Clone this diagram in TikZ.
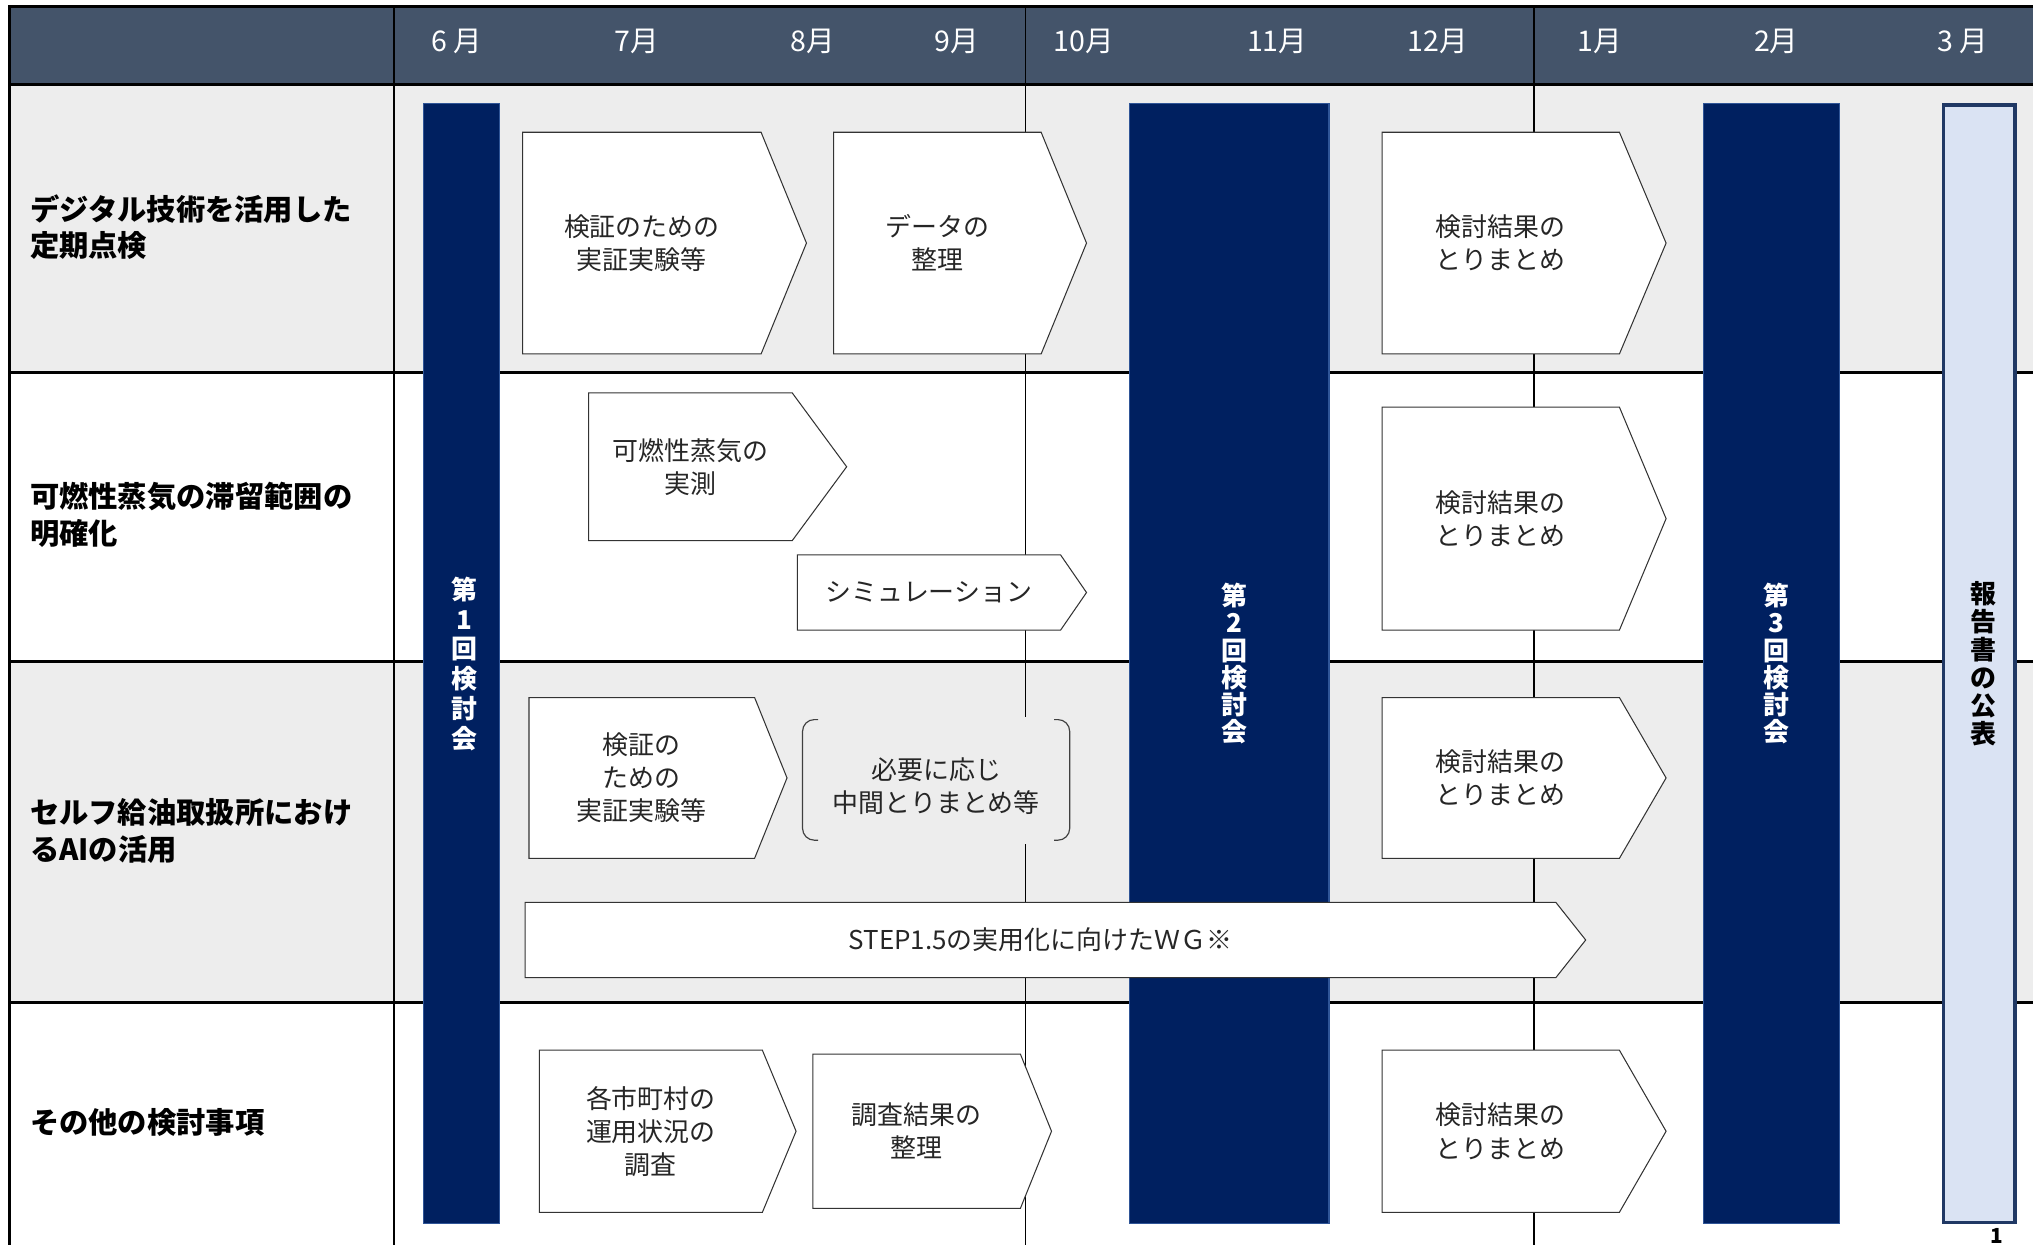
\documentclass[tikz,border=0pt]{standalone}
\usepackage{fontspec}
\setmainfont{Noto Sans CJK JP}

\definecolor{headblue}{HTML}{44546A}
\definecolor{bandgray}{HTML}{EDEDED}
\definecolor{navy}{HTML}{002060}
\definecolor{navyedge}{HTML}{2F5597}
\definecolor{reportfill}{HTML}{DAE3F3}
\definecolor{reportedge}{HTML}{203864}

% chevron box: name, x left, y top, x body end, x tip, y bottom, text
\newcommand{\taskchev}[7]{%
  \draw[taskline] (#2,#3) -- (#4,#3) -- (#5,{(#3+#6)/2}) -- (#4,#6) -- (#2,#6) -- cycle;
  \node[tasktext] (#1) at ({(#2+#4)/2},{(#3+#6)/2}) {#7};}

\begin{document}
\begin{tikzpicture}[
    x=1pt, y=-1pt,
    gridthick/.style={line width=2.4pt, black},
    gridthin/.style={line width=1.3pt, black},
    meetbar/.style={fill=navy, draw=navyedge, line width=0.8pt},
    reportbar/.style={fill=reportfill, draw=reportedge, line width=2.6pt},
    taskline/.style={fill=white, draw=black!80, line width=0.8pt},
    bracketline/.style={draw=black!75, line width=0.9pt},
    tasktext/.style={align=center, inner sep=0pt, text=black!85,
      font=\fontsize{20}{25.5}\selectfont},
    rowlabel/.style={anchor=west, align=left, inner sep=0pt,
      font=\bfseries\fontsize{22.6}{28}\selectfont},
    monthlabel/.style={inner sep=0pt, text=white, font=\fontsize{22}{26}\selectfont},
    barlabel/.style={align=center, inner sep=0pt, text=white,
      font=\bfseries\fontsize{20}{23}\selectfont}
  ]
    \useasboundingbox (0,0) rectangle (1568,960);

    % Bands and header
    \fill[bandgray] (7,65) rectangle (1568,287);
    \fill[bandgray] (7,510) rectangle (1568,773);
    \fill[headblue] (7,5) rectangle (1568,65);

    % Grid
    \draw[gridthick] (7,5) -- (1568,5);
    \draw[gridthick] (7,65) -- (1568,65);
    \draw[gridthick] (7,287) -- (1568,287);
    \draw[gridthick] (7,510) -- (1568,510);
    \draw[gridthick] (7,773) -- (1568,773);
    \draw[gridthick] (7,4) -- (7,960);
    \draw[line width=1.8pt] (304,5) -- (304,960);
    \draw[gridthin] (791,5) -- (791,960);
    \draw[gridthin] (1183,5) -- (1183,960);

    % Months
    \node[monthlabel] (m6)  at (352,32)  {6 月};
    \node[monthlabel] (m7)  at (491,32)  {7月};
    \node[monthlabel] (m8)  at (627,32)  {8月};
    \node[monthlabel] (m9)  at (738,32)  {9月};
    \node[monthlabel] (m10) at (836,32)  {10月};
    \node[monthlabel] (m11) at (985,32)  {11月};
    \node[monthlabel] (m12) at (1109,32) {12月};
    \node[monthlabel] (m1)  at (1234,32) {1月};
    \node[monthlabel] (m2)  at (1370,32) {2月};
    \node[monthlabel] (m3)  at (1514,32) {3 月};

    % Row titles
    \node[rowlabel] (r1) at (23,175) {デジタル技術を活用した\\定期点検};
    \node[rowlabel] (r2) at (23,397) {可燃性蒸気の滞留範囲の\\明確化};
    \node[rowlabel] (r3) at (23,641) {セルフ給油取扱所におけ\\るAIの活用};
    \node[rowlabel] (r4) at (23,866) {その他の検討事項};

    % Meetings
    \draw[meetbar] (327,80) rectangle (385,944);
    \draw[meetbar] (871,80) rectangle (1025,944);
    \draw[meetbar] (1314,80) rectangle (1419,944);
    \draw[reportbar] (1499,81) rectangle (1554,943);
    \node[barlabel] (meet1) at (358,512) {第\\1\\回\\検\\討\\会};
    \node[barlabel, font=\bfseries\fontsize{20}{21}\selectfont] (meet2) at (952,512) {第\\2\\回\\検\\討\\会};
    \node[barlabel, font=\bfseries\fontsize{20}{21}\selectfont] (meet3) at (1370,512) {第\\3\\回\\検\\討\\会};
    \node[barlabel, text=black, font=\bfseries\fontsize{20}{21.5}\selectfont] (report) at (1530,512) {報\\告\\書\\の\\公\\表};

    % Row 1
    \taskchev{dig1}{403}{102}{587}{622}{273}{検証のための\\実証実験等}
    \taskchev{dig2}{643}{102}{803}{838}{273}{データの\\整理}
    \taskchev{dig3}{1066}{102}{1249}{1285}{273}{検討結果の\\とりまとめ}

    % Row 2
    \taskchev{vap1}{454}{303}{611}{653}{417}{可燃性蒸気の\\実測}
    \taskchev{vap2}{615}{428}{818}{838}{486}{シミュレーション}
    \taskchev{vap3}{1066}{314}{1249}{1285}{486}{検討結果の\\とりまとめ}

    % Row 3
    \taskchev{ai1}{408}{538}{582}{607}{662}{検証の\\ための\\実証実験等}
    \fill[bandgray] (617,553) rectangle (827,651);
    \draw[bracketline, rounded corners=9pt] (631,555) -- (619,555) -- (619,648) -- (631,648);
    \draw[bracketline, rounded corners=9pt] (813,555) -- (825,555) -- (825,648) -- (813,648);
    \node[tasktext] (ai2) at (722,606) {必要に応じ\\中間とりまとめ等};
    \taskchev{ai3}{1066}{538}{1249}{1285}{662}{検討結果の\\とりまとめ}
    \taskchev{ai4}{405}{696}{1200}{1223}{754}{STEP1.5の実用化に向けたＷＧ※}

    % Row 4
    \taskchev{oth1}{416}{810}{588}{614}{935}{各市町村の\\運用状況の\\調査}
    \taskchev{oth2}{627}{813}{787}{811}{932}{調査結果の\\整理}
    \taskchev{oth3}{1066}{810}{1249}{1285}{935}{検討結果の\\とりまとめ}

    \node[anchor=south, inner sep=0pt, font=\bfseries\fontsize{16}{18}\selectfont] (page) at (1540,959) {1};
\end{tikzpicture}
\end{document}
